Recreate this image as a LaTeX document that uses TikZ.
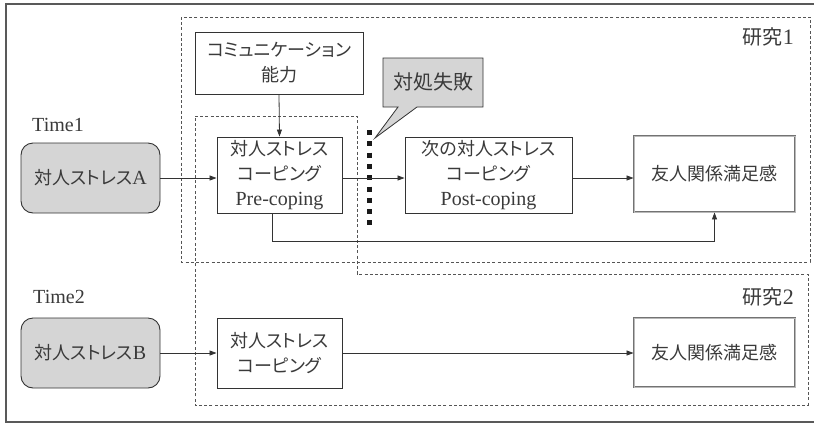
\documentclass[tikz,border=0pt]{standalone}
\usepackage{fontspec}
\setmainfont{Liberation Serif}
\newfontfamily\jp[RawFeature={+palt}]{Noto Sans CJK JP}
\newcommand\J[1]{{\fontsize{18}{25}\selectfont\jp #1}}
\newcommand\JL[1]{{\fontsize{20}{25}\selectfont\jp #1}}
\definecolor{txt}{HTML}{3A3A3A}
\definecolor{ln}{HTML}{333333}
\definecolor{dash}{HTML}{555555}
\definecolor{fillg}{HTML}{D5D5D5}
\usetikzlibrary{arrows.meta}
\tikzset{
  box/.style={draw=ln, line width=0.9pt, fill=white, align=center, text=txt, inner sep=0pt,
    font=\fontsize{20}{25}\selectfont},
  grayr/.style={box, fill=fillg, rounded corners=12pt},
  sat/.style={box, draw=gray!90!black, double=gray!55, double distance=1pt, line width=0.9pt},
  arr/.style={draw=ln, line width=0.8pt, -{Triangle[length=7pt,width=5pt]}},
  studybox/.style={draw=dash, line width=0.8pt, dash pattern=on 3pt off 2.2pt},
  lbl/.style={text=txt, inner sep=0pt, font=\fontsize{20}{22}\selectfont},
}
\begin{document}
\begin{tikzpicture}[x=1pt,y=-1pt]
\useasboundingbox (0,0) rectangle (814,424);
% outer frame
\draw[gray!70!black, line width=1.2pt] (6,4) rectangle (822,422);
% study boxes
\draw[studybox] (181,17) rectangle (810,262);
\draw[studybox] (195,116) -- (357,116) -- (357,274) -- (808,274) -- (808,405) -- (195,405) -- cycle;
% labels
\node[lbl] (t1) at (58,125) {Time1};
\node[lbl] (t2) at (59,297) {Time2};
\node[lbl, anchor=east, font=\fontsize{22}{24}\selectfont] (s1) at (794,37) {\JL{研究}1};
\node[lbl, anchor=east, font=\fontsize{22}{24}\selectfont] (s2) at (794,297) {\JL{研究}2};
% nodes
\node[grayr, minimum width=139pt, minimum height=70pt] (A) at (90.5,178) {\J{対人ストレス}A};
\node[box, minimum width=125pt, minimum height=76pt] (pre) at (279.5,175) {\J{対人ストレス}\\\J{コーピング}\\Pre-coping};
\node[box, minimum width=168pt, minimum height=62pt] (comm) at (279,63) {\J{コミュニケーション}\\\J{能力}};
\node[box, minimum width=167pt, minimum height=76pt] (post) at (488.5,175) {\J{次の対人ストレス}\\\J{コーピング}\\Post-coping};
\node[sat, minimum width=161pt, minimum height=76pt] (sat1) at (714.5,174) {\J{友人関係満足感}};
\node[grayr, minimum width=139pt, minimum height=70pt] (B) at (90.5,353) {\J{対人ストレス}B};
\node[box, minimum width=125pt, minimum height=70pt] (cop2) at (279.5,353) {\J{対人ストレス}\\\J{コーピング}};
\node[sat, minimum width=161pt, minimum height=69pt] (sat2) at (714.5,352.5) {\J{友人関係満足感}};
% callout
\draw[ln, line width=0.8pt, fill=fillg] (383,58) -- (483,58) -- (483,107) -- (417,107) -- (375,138) -- (398,107) -- (383,107) -- cycle;
\node[lbl] (fail) at (433,82) {\JL{対処失敗}};
% dotted barrier
\coordinate (bartop) at (369,130);
\coordinate (barbot) at (369,225);
\draw[black!90, line width=5pt, dash pattern=on 5pt off 6.3pt] (bartop) -- (barbot);
% arrows
\draw[arr] (A.east) -- (A.east -| pre.west);
\draw[arr] (pre.east |- A.east) -- (post.west |- A.east);
\draw[arr] (post.east |- A.east) -- (sat1.west |- A.east);
\draw[arr] (comm.south) -- (pre.north);
\coordinate (bend) at (272,241);
\draw[arr] ([xshift=-7.5pt]pre.south) -- (bend) -- (sat1.south |- bend) -- (sat1.south);
\draw[arr] (B.east) -- (B.east -| cop2.west);
\draw[arr] (cop2.east) -- (sat2.west |- cop2.east);
\end{tikzpicture}
\end{document}
